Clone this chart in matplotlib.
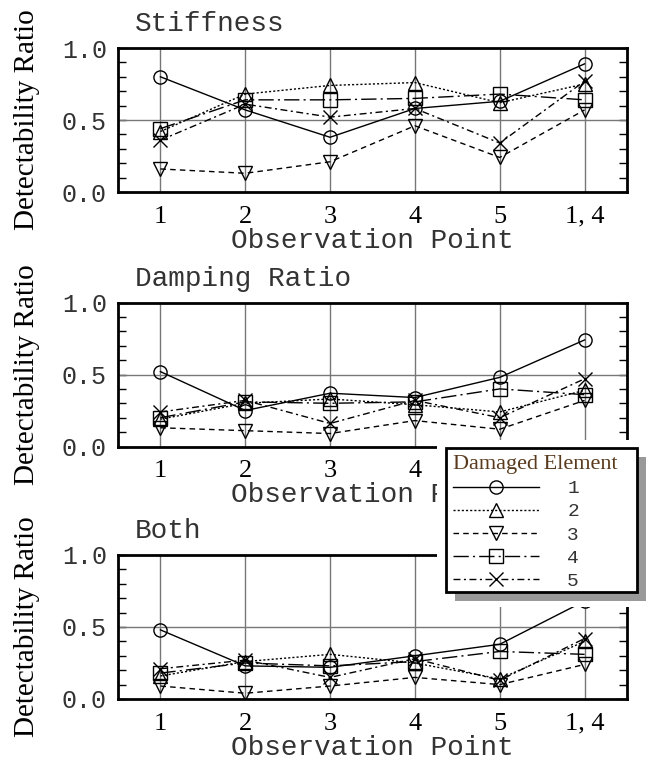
import matplotlib
matplotlib.use("Agg")
import matplotlib.pyplot as plt
from matplotlib.lines import Line2D
from matplotlib.patches import Rectangle
from matplotlib.ticker import MultipleLocator

# ---------------- data ----------------
obs_points = [1, 2, 3, 4, 5, 6]
obs_labels = ["1", "2", "3", "4", "5", "1, 4"]
elements = ["1", "2", "3", "4", "5"]
panel_titles = ["Stiffness", "Damping Ratio", "Both"]

stiffness = [
    [0.80, 0.57, 0.38, 0.58, 0.63, 0.89],
    [0.42, 0.68, 0.74, 0.76, 0.62, 0.75],
    [0.16, 0.13, 0.21, 0.46, 0.24, 0.57],
    [0.44, 0.64, 0.64, 0.65, 0.68, 0.64],
    [0.36, 0.61, 0.52, 0.58, 0.34, 0.77],
]
damping = [
    [0.52, 0.25, 0.37, 0.34, 0.48, 0.74],
    [0.19, 0.30, 0.33, 0.29, 0.24, 0.39],
    [0.13, 0.11, 0.09, 0.18, 0.12, 0.32],
    [0.20, 0.31, 0.30, 0.31, 0.40, 0.36],
    [0.24, 0.32, 0.16, 0.32, 0.20, 0.47],
]
both = [
    [0.48, 0.23, 0.22, 0.30, 0.38, 0.68],
    [0.16, 0.26, 0.31, 0.25, 0.14, 0.40],
    [0.09, 0.04, 0.09, 0.15, 0.10, 0.24],
    [0.18, 0.25, 0.23, 0.26, 0.33, 0.31],
    [0.21, 0.27, 0.15, 0.28, 0.13, 0.42],
]
panels = [stiffness, damping, both]

# ---------------- styles ----------------
MONO = ["Liberation Mono", "DejaVu Sans Mono"]
SERIF = ["Liberation Serif", "DejaVu Serif"]
TXT = "#333333"
markers = ["o", "^", "v", "s", "x"]
linestyles = ["-", (0, (1.5, 1.5)), (0, (4, 3)), (0, (11, 3, 1.5, 3)), (0, (5, 2.5, 1.5, 2.5))]

W, H = 647, 765
fig = plt.figure(figsize=(W / 100, H / 100), dpi=100)

ax_tops = [48, 302.5, 555]
ax_h = 144
left, right = 118, 627

for top, data, title in zip(ax_tops, panels, panel_titles):
    ax = fig.add_axes([left / W, 1 - (top + ax_h) / H, (right - left) / W, ax_h / H])
    for j, series in enumerate(data):
        ax.plot(obs_points, series, color="black", lw=1.0, linestyle=linestyles[j],
                marker=markers[j], markersize=9.5, markerfacecolor="none",
                markeredgecolor="black", markeredgewidth=1.0, zorder=3)
    ax.set_xlim(0.5, 6.5)
    ax.set_ylim(0, 1)
    ax.set_xticks(obs_points)
    ax.set_xticklabels(obs_labels, fontfamily=SERIF, fontsize=19)
    ax.set_yticks([0, 0.5, 1.0])
    ax.set_yticklabels(["0.0", "0.5", "1.0"], fontfamily=MONO, fontsize=18, color=TXT)
    ax.yaxis.set_minor_locator(MultipleLocator(0.1))
    ax.tick_params(axis="x", length=0, pad=10)
    ax.tick_params(axis="y", which="both", direction="in", left=True, right=True,
                   length=6, width=1.0, pad=8)
    ax.grid(True, axis="x", color="#777777", lw=1.0)
    ax.axhline(0.5, color="#777777", lw=1.0, zorder=1)
    ax.set_axisbelow(True)
    for sp in ax.spines.values():
        sp.set_linewidth(2.0)
    ax.set_xlabel("Observation Point", fontfamily=MONO, fontsize=20, color=TXT, labelpad=0)
    ax.set_ylabel("Detectability Ratio", fontfamily=SERIF, fontsize=21, labelpad=16)
    ax.annotate(title, xy=(0, 1), xycoords="axes fraction", xytext=(17, 24),
                textcoords="offset pixels", fontfamily=MONO, fontsize=20,
                color=TXT, ha="left", va="center")

# ---------------- legend ----------------
box_l, box_t, box_r, box_b = 446, 448, 637, 592  # legend frame, pixels from top-left
shadow_off = 9
# white backing area that the legend block covers (hides parts of panels 2 and 3)
fig.add_artist(Rectangle((437, H - 607), W - 437, 607 - 440, transform=None,
                         facecolor="white", edgecolor="none", zorder=8.5))
fig.add_artist(Rectangle((box_l + shadow_off, H - box_b - shadow_off), box_r - box_l, box_b - box_t,
                         transform=None, facecolor="#999999", edgecolor="none", zorder=9))
fig.add_artist(Rectangle((box_l, H - box_b), box_r - box_l, box_b - box_t,
                         transform=None, facecolor="white", edgecolor="black", lw=2.0, zorder=9.5))

handles = [Line2D([], [], color="black", lw=1.0, linestyle=linestyles[j], marker=markers[j],
                  markersize=9.5, markerfacecolor="none", markeredgewidth=1.0)
           for j in range(len(elements))]
leg = fig.legend(handles, elements, loc="upper left",
                 bbox_to_anchor=(box_l / W, 1 - box_t / H), borderaxespad=0,
                 title="Damaged Element", alignment="left",
                 title_fontproperties={"family": SERIF, "size": 16},
                 prop={"family": MONO, "size": 14},
                 handlelength=4.4, handletextpad=1.45, labelspacing=0.28,
                 borderpad=0.38, frameon=False)
leg.get_title().set_color("#5a3a1c")
for t in leg.get_texts():
    t.set_color(TXT)
leg.set_zorder(10)

fig.savefig("out.png", dpi=100)
